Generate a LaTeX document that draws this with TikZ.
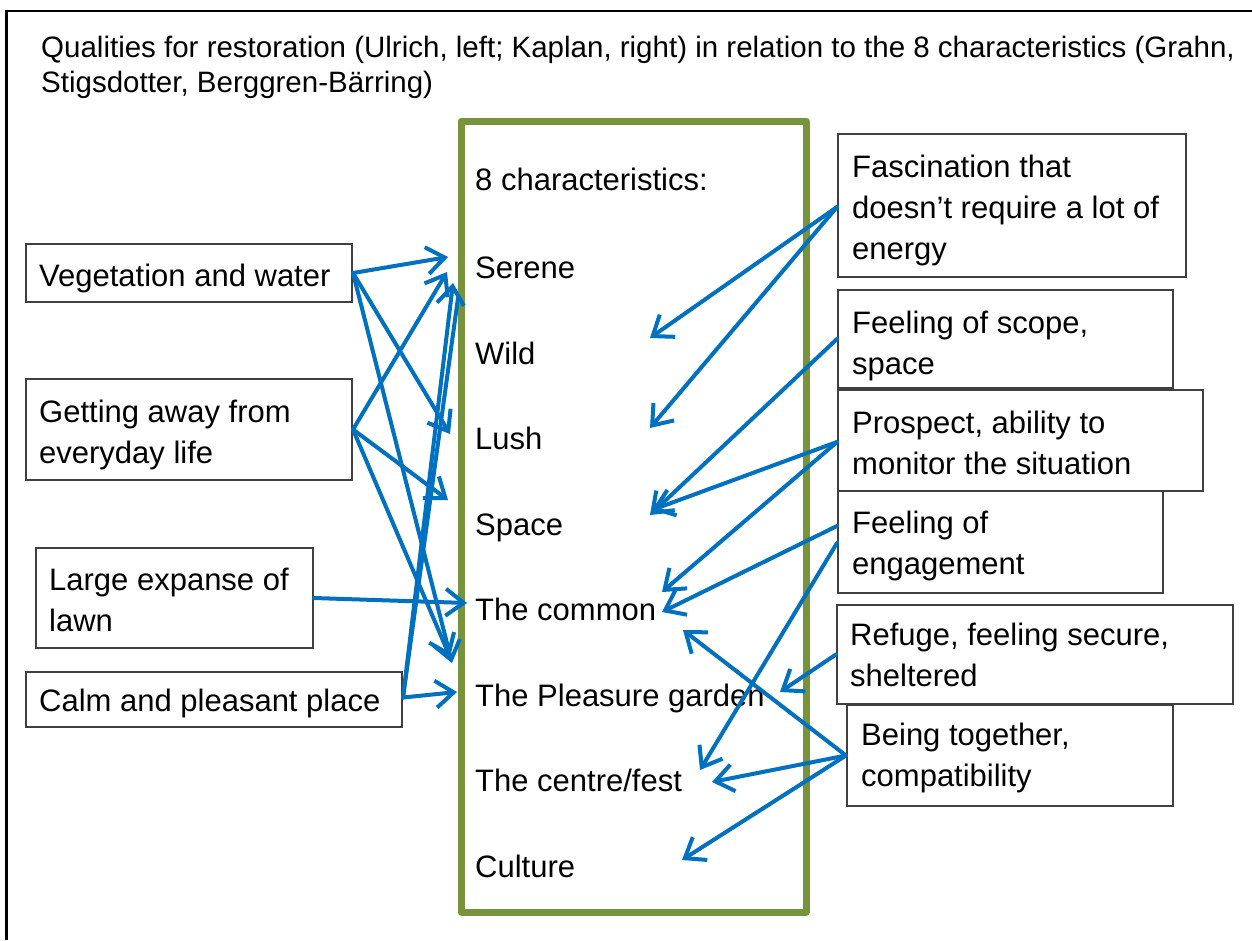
\documentclass[tikz,border=0pt]{standalone}
\usepackage{fontspec}
\setmainfont{Liberation Sans}
\usetikzlibrary{arrows.meta,calc}
\definecolor{conblue}{RGB}{0,112,192}
\definecolor{olivegreen}{RGB}{119,147,60}
\newcommand{\mytab}[1]{\begin{tabular}[t]{@{}l@{}}#1\end{tabular}}
\begin{document}
\begin{tikzpicture}[x=1pt,y=-1pt,
  qbox/.style={draw=black!75, line width=2pt, rectangle, inner sep=0pt},
  txt/.style={anchor=base west, inner sep=0pt, font=\fontsize{31}{41}\selectfont},
  ctxt/.style={anchor=base west, inner sep=0pt, font=\fontsize{31}{37}\selectfont},
  conn/.style={draw=conblue, line width=4pt, line cap=round,
    -{Straight Barb[length=18pt,width=27pt,line width=4pt]}},
  plain/.style={draw=conblue, line width=4pt, line cap=round}]
\useasboundingbox (0,0) rectangle (1252,940);
\fill[white] (0,0) rectangle (1252,940);
% frame
\draw[line width=2.5pt] (6.5,940) -- (6.5,11) -- (1252,11);
% title
\node[anchor=base west, inner sep=0pt, font=\fontsize{29.5}{35}\selectfont] (title) at (41,57)
  {\mytab{Qualities for restoration (Ulrich, left; Kaplan, right) in relation to the 8 characteristics (Grahn,\\Stigsdotter, Berggren-B\"arring)}};
% left boxes
\node[qbox, minimum width=326pt, minimum height=58pt] (veg) at (189,273) {};
\node[txt] (vegt) at (39,286) {Vegetation and water};
\node[qbox, minimum width=326pt, minimum height=101pt] (get) at (189,429.5) {};
\node[txt] (gett) at (39,422) {\mytab{Getting away from\\everyday life}};
\node[qbox, minimum width=277pt, minimum height=100pt] (large) at (174.5,598) {};
\node[txt] (larget) at (49,590) {\mytab{Large expanse of\\lawn}};
\node[qbox, minimum width=376pt, minimum height=55pt] (calm) at (214,699.5) {};
\node[txt] (calmt) at (39,711) {Calm and pleasant place};
% right boxes
\node[qbox, minimum width=348pt, minimum height=143pt] (fasc) at (1012,205.5) {};
\node[txt] (fasct) at (852,177) {\mytab{Fascination that\\doesn’t require a lot of\\energy}};
\node[qbox, minimum width=335pt, minimum height=98pt] (scope) at (1005.5,339) {};
\node[txt] (scopet) at (852,333) {\mytab{Feeling of scope,\\space}};
\node[qbox, minimum width=365pt, minimum height=101pt] (prosp) at (1020.5,440.5) {};
\node[txt] (prospt) at (852,433) {\mytab{Prospect, ability to\\monitor the situation}};
\node[qbox, minimum width=325pt, minimum height=102pt] (engage) at (1000.5,542) {};
\node[txt] (engaget) at (852,533) {\mytab{Feeling of\\engagement}};
\node[qbox, minimum width=396pt, minimum height=99pt] (refuge) at (1035,654.5) {};
\node[txt] (refuget) at (850,645) {\mytab{Refuge, feeling secure,\\sheltered}};
\node[qbox, minimum width=326pt, minimum height=101pt] (being) at (1010,755.5) {};
\node[txt] (beingt) at (861,745) {\mytab{Being together,\\compatibility}};
% characteristics
\node[ctxt] (c0) at (475,190) {8 characteristics:};
\node[ctxt] (serene) at (475,278) {Serene};
\node[ctxt] (wild) at (475,364) {Wild};
\node[ctxt] (lush) at (475,449) {Lush};
\node[ctxt] (space) at (475,535) {Space};
\node[ctxt] (common) at (475,620) {The common};
\node[ctxt] (pleasure) at (475,706) {The Pleasure garden};
\node[ctxt] (centre) at (475,791) {The centre/fest};
\node[ctxt] (culture) at (475,877) {Culture};
\draw[draw=olivegreen, line width=7pt, line join=round] (461,121) rectangle (806,912);
% arrow tips
\coordinate (tSer1) at (448,257);
\coordinate (tSer2) at (447,272);
\coordinate (tSer3) at (453,283);
\coordinate (tSer4) at (458,298);
\coordinate (tLush) at (450,434);
\coordinate (tSpace) at (448,500);
\coordinate (tPl1) at (452,663);
\coordinate (tPl2) at (450,657);
\coordinate (tCom) at (467,603);
\coordinate (tPl3) at (457,692);
\coordinate (tWild) at (650,338);
\coordinate (tLushR) at (650,428);
\coordinate (tSpR1) at (650,515);
\coordinate (tSpR2) at (652,510);
\coordinate (tComR1) at (662,592);
\coordinate (tComR2) at (662,612);
\coordinate (tComR3) at (683,630);
\coordinate (tCen1) at (700,770);
\coordinate (tCen2) at (712,782);
\coordinate (tPlR) at (780,692);
\coordinate (tCul) at (682,860);
% left connectors
\draw[conn] (veg.east) -- (tSer1);
\draw[conn] (veg.east) -- (tLush);
\draw[conn] (veg.east) -- (tPl1);
\draw[conn] (get.east) -- (tSer2);
\draw[conn] (get.east) -- (tSpace);
\draw[conn] (get.east) -- (tPl2);
\draw[conn] (large.east) -- (tCom);
\draw[conn] ($(calm.east)+(0,-2)$) -- (tPl3);
\draw[conn] ($(calm.east)+(0,-2)$) -- (tSer3);
\draw[plain] ($(calm.east)+(0,-2)$) -- (tSer4);
% right connectors
\draw[conn] ($(fasc.west)+(0,1.5)$) -- (tWild);
\draw[conn] ($(fasc.west)+(0,1.5)$) -- (tLushR);
\draw[conn] (scope.west) -- (tSpR1);
\draw[conn] ($(prosp.west)+(0,1.5)$) -- (tSpR2);
\draw[conn] ($(prosp.west)+(0,1.5)$) -- (tComR1);
\draw[conn] ($(engage.west)+(0,-16)$) -- (tComR2);
\draw[conn] ($(engage.west)+(0,1)$) -- (tCen1);
\draw[conn] (refuge.west) -- (tPlR);
\draw[conn] (being.west) -- (tComR3);
\draw[conn] (being.west) -- (tCen2);
\draw[conn] (being.west) -- (tCul);
\end{tikzpicture}
\end{document}
